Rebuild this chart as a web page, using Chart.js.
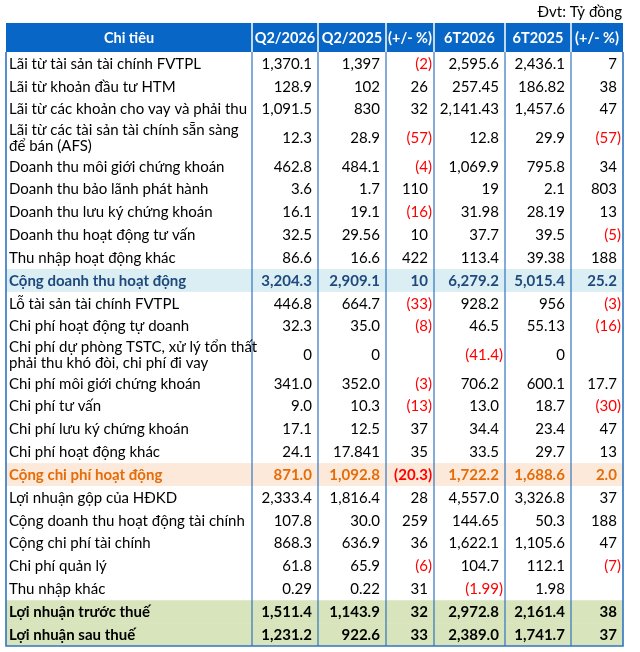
<!DOCTYPE html>
<html lang="vi">
<head>
<meta charset="utf-8">
<title>Kết quả kinh doanh Q2/2026</title>
<script src="https://cdn.jsdelivr.net/npm/chart.js@4.4.1/dist/chart.umd.min.js"></script>
<style>
html, body { margin: 0; padding: 0; background: #fff; }
#wrap { width: 640px; height: 652px; position: relative; }
</style>
</head>
<body>
<div id="wrap"><canvas id="tbl"></canvas></div>
<script>
var unitNote = 'Đvt: Tỷ đồng';
var headers = ['Chi tiêu', 'Q2/2026', 'Q2/2025', '(+/- %)', '6T2026', '6T2025', '(+/- %)'];

var items = [
    'Lãi từ tài sản tài chính FVTPL',
    'Lãi từ khoản đầu tư HTM',
    'Lãi từ các khoản cho vay và phải thu',
    'Lãi từ các tài sản tài chính sẵn sàng\nđể bán (AFS)',
    'Doanh thu môi giới chứng khoán',
    'Doanh thu bảo lãnh phát hành',
    'Doanh thu lưu ký chứng khoán',
    'Doanh thu hoạt động tư vấn',
    'Thu nhập hoạt động khác',
    'Cộng doanh thu hoạt động',
    'Lỗ tài sản tài chính FVTPL',
    'Chi phí hoạt động tự doanh',
    'Chi phí dự phòng TSTC, xử lý tổn thất\nphải thu khó đòi, chi phí đi vay',
    'Chi phí môi giới chứng khoán',
    'Chi phí tư vấn',
    'Chi phí lưu ký chứng khoán',
    'Chi phí hoạt động khác',
    'Cộng chi phí hoạt động',
    'Lợi nhuận gộp của HĐKD',
    'Cộng doanh thu hoạt động tài chính',
    'Cộng chi phí tài chính',
    'Chi phí quản lý',
    'Thu nhập khác',
    'Lợi nhuận trước thuế',
    'Lợi nhuận sau thuế'
];

// values as printed (negatives shown in brackets)
var q2_2026 = ['1370.1', '128.9', '1091.5', '12.3', '462.8', '3.6', '16.1', '32.5', '86.6', '3204.3',
               '446.8', '32.3', '0', '341.0', '9.0', '17.1', '24.1', '871.0',
               '2333.4', '107.8', '868.3', '61.8', '0.29', '1511.4', '1231.2'];
var q2_2025 = ['1397', '102', '830', '28.9', '484.1', '1.7', '19.1', '29.56', '16.6', '2909.1',
               '664.7', '35.0', '0', '352.0', '10.3', '12.5', '17.841', '1092.8',
               '1816.4', '30.0', '636.9', '65.9', '0.22', '1143.9', '922.6'];
var chgQ = ['-2', '26', '32', '-57', '-4', '110', '-16', '10', '422', '10',
            '-33', '-8', '', '-3', '-13', '37', '35', '-20.3',
            '28', '259', '36', '-6', '31', '32', '33'];
var h1_2026 = ['2595.6', '257.45', '2141.43', '12.8', '1069.9', '19', '31.98', '37.7', '113.4', '6279.2',
               '928.2', '46.5', '-41.4', '706.2', '13.0', '34.4', '33.5', '1722.2',
               '4557.0', '144.65', '1622.1', '104.7', '-1.99', '2972.8', '2389.0'];
var h1_2025 = ['2436.1', '186.82', '1457.6', '29.9', '795.8', '2.1', '28.19', '39.5', '39.38', '5015.4',
               '956', '55.13', '0', '600.1', '18.7', '23.4', '29.7', '1688.6',
               '3326.8', '50.3', '1105.6', '112.1', '1.98', '2161.4', '1741.7'];
var chgH = ['7', '38', '47', '-57', '34', '803', '13', '-5', '188', '25.2',
            '-3', '-16', '', '17.7', '-30', '47', '13', '2.0',
            '37', '188', '47', '-7', '', '38', '37'];

// row kinds: total rows get their own fill / text colour
var rowKind = ['', '', '', '', '', '', '', '', '', 'rev',
               '', '', '', '', '', '', '', 'cost',
               '', '', '', '', '', 'profit', 'profit'];

var columns = [q2_2026, q2_2025, chgQ, h1_2026, h1_2025, chgH];

var colEdges = [6, 252, 318, 386, 434, 505, 571, 623];
var tableTop = 23, headH = 29, rowH = 22.85, rowH2 = 34.2;
var FONT = 'Lato, "Open Sans", sans-serif';
var kinds = {
    '':       { fill: null,      color: '#000000', bold: false },
    'rev':    { fill: '#DAEEF3', color: '#1F497D', bold: true },
    'cost':   { fill: '#FDE9D9', color: '#E46C0A', bold: true },
    'profit': { fill: '#D8E4BC', color: '#000000', bold: true }
};

function fmt(s) {
    if (s === '') return { text: '', neg: false };
    var neg = s.charAt(0) === '-';
    var p = (neg ? s.slice(1) : s).split('.');
    var t = p[0].replace(/\B(?=(\d{3})+(?!\d))/g, ',');
    if (p.length > 1) t += '.' + p[1];
    return { text: neg ? '(' + t + ')' : t, neg: neg };
}

var tablePlugin = {
    id: 'tableDraw',
    afterDraw: function(chart) {
        var ctx = chart.ctx;
        var xs = chart.scales.x, ys = chart.scales.y;
        var X = function(v) { return xs.getPixelForValue(v); };
        var Y = function(v) { return ys.getPixelForValue(v); };
        var left = X(colEdges[0]), right = X(colEdges[colEdges.length - 1]);

        // row tops
        var tops = [];
        var y = tableTop + headH;
        for (var i = 0; i < items.length; i++) {
            tops.push(y);
            y += items[i].indexOf('\n') >= 0 ? rowH2 : rowH;
        }
        var bottom = y;

        ctx.save();
        // unit note
        ctx.font = '15px ' + FONT;
        ctx.fillStyle = '#000';
        ctx.textAlign = 'right';
        ctx.textBaseline = 'middle';
        ctx.fillText(unitNote, right - 1, Y(12));

        // header
        ctx.fillStyle = '#0866C6';
        ctx.fillRect(left, Y(tableTop), right - left, Y(tableTop + headH) - Y(tableTop));
        ctx.strokeStyle = '#ffffff';
        ctx.lineWidth = 1.5;
        for (var c = 1; c < colEdges.length - 1; c++) {
            ctx.beginPath();
            ctx.moveTo(X(colEdges[c]), Y(tableTop));
            ctx.lineTo(X(colEdges[c]), Y(tableTop + headH));
            ctx.stroke();
        }
        ctx.font = 'bold 14.5px ' + FONT;
        ctx.fillStyle = '#ffffff';
        ctx.textAlign = 'center';
        for (var h = 0; h < headers.length; h++) {
            ctx.fillText(headers[h], (X(colEdges[h]) + X(colEdges[h + 1])) / 2, Y(tableTop + headH / 2 + 0.5));
        }

        // row fills
        for (var r = 0; r < items.length; r++) {
            var k = kinds[rowKind[r]];
            var hgt = items[r].indexOf('\n') >= 0 ? rowH2 : rowH;
            if (k.fill) {
                ctx.fillStyle = k.fill;
                ctx.fillRect(left, Y(tops[r]), right - left, Y(tops[r] + hgt) - Y(tops[r]));
            }
        }

        // grid lines in body
        ctx.strokeStyle = '#2F75C0';
        ctx.lineWidth = 1.2;
        for (var c2 = 1; c2 < colEdges.length - 1; c2++) {
            ctx.beginPath();
            ctx.moveTo(X(colEdges[c2]), Y(tableTop + headH));
            ctx.lineTo(X(colEdges[c2]), Y(bottom));
            ctx.stroke();
        }
        ctx.lineWidth = 1.6;
        ctx.beginPath();
        ctx.moveTo(left, Y(tableTop + headH));
        ctx.lineTo(left, Y(bottom));
        ctx.lineTo(right, Y(bottom));
        ctx.lineTo(right, Y(tableTop + headH));
        ctx.stroke();

        // text
        for (var r2 = 0; r2 < items.length; r2++) {
            var kd = kinds[rowKind[r2]];
            var hh = items[r2].indexOf('\n') >= 0 ? rowH2 : rowH;
            var cy = tops[r2] + hh / 2;
            ctx.font = (kd.bold ? 'bold ' : '') + '15px ' + FONT;
            ctx.fillStyle = kd.color;
            ctx.textAlign = 'left';
            var lines = items[r2].split('\n');
            for (var l = 0; l < lines.length; l++) {
                var ly = cy + (l - (lines.length - 1) / 2) * 16.5;
                ctx.fillText(lines[l], X(colEdges[0] + 3), Y(ly + 0.5));
            }
            ctx.textAlign = 'right';
            var pw = ctx.measureText(')').width;
            for (var cc = 0; cc < columns.length; cc++) {
                var f = fmt(columns[cc][r2]);
                if (!f.text) continue;
                ctx.fillStyle = f.neg ? '#FF0000' : kd.color;
                var rx = X(colEdges[cc + 2]) - 2 - (f.neg ? 0 : pw);
                ctx.fillText(f.text, rx, Y(cy + 0.5));
            }
        }
        ctx.restore();
    }
};

new Chart(document.getElementById('tbl'), {
    type: 'scatter',
    data: { datasets: [{ data: [], pointRadius: 0 }] },
    options: {
        responsive: true,
        maintainAspectRatio: false,
        animation: false,
        events: [],
        layout: { padding: 0 },
        plugins: { legend: { display: false }, tooltip: { enabled: false } },
        scales: {
            x: { type: 'linear', min: 0, max: 640, display: false },
            y: { type: 'linear', min: 0, max: 652, reverse: true, display: false }
        }
    },
    plugins: [tablePlugin]
});
</script>
</body>
</html>
